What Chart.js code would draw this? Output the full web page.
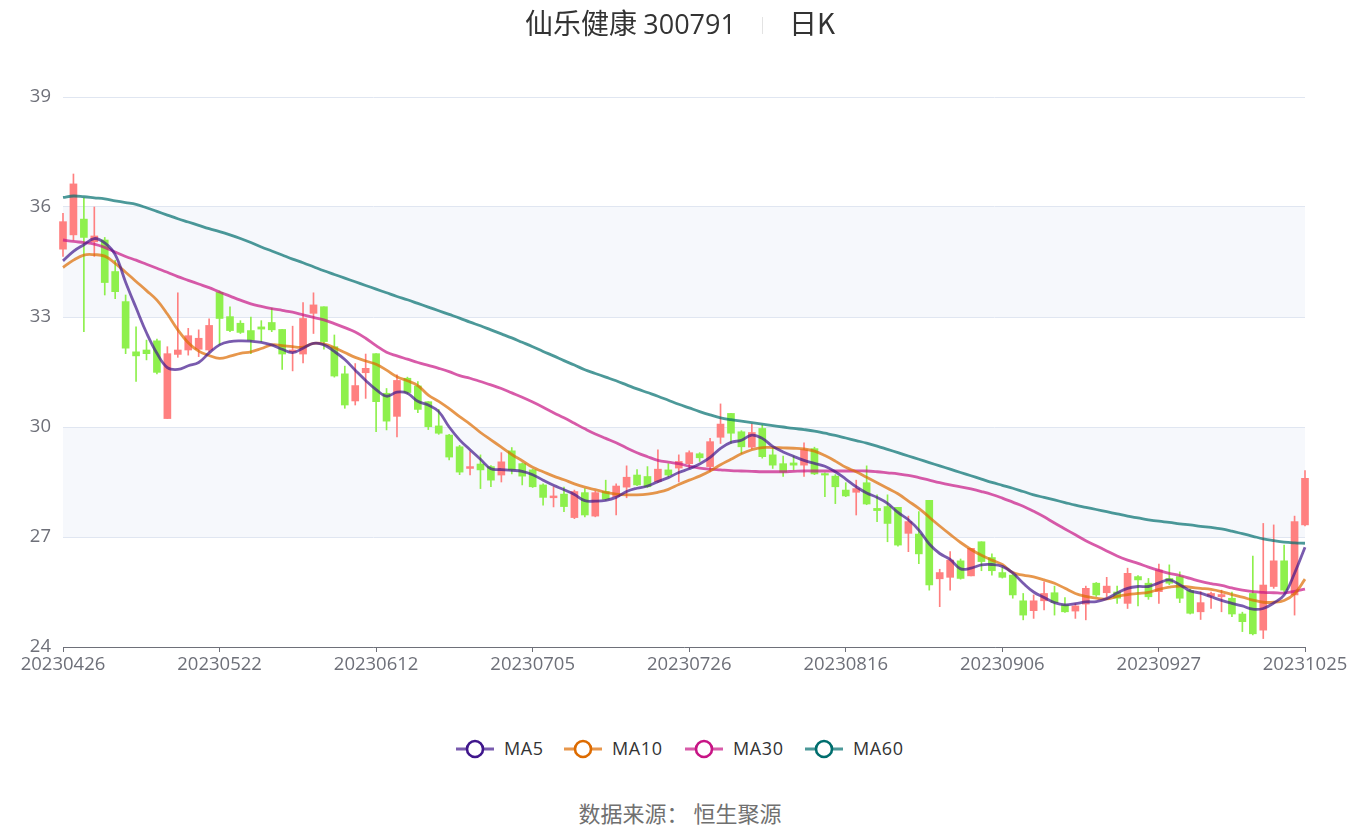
<html>
<head>
<meta charset="utf-8">
<script src="https://cdn.jsdelivr.net/npm/chart.js@4.4.0/dist/chart.umd.min.js"></script>
<style>
body { margin:0; background:#fff; font-family:"Noto Sans CJK SC","Noto Sans",sans-serif; }
#wrap { position:relative; width:1360px; height:828px; overflow:hidden; }
#chart { position:absolute; left:0; top:0; }
#title { position:absolute; left:0; width:1360px; top:3px; text-align:center; font-size:28px; color:#333; line-height:38px; }
#title .num { font-family:"Open Sans",sans-serif; font-size:27px; }
#title .sep { display:inline-block; width:1px; height:17px; background:#e3e3e3; margin:0 26px 0 26px; vertical-align:0px; }
#legend { position:absolute; left:0; top:735px; width:1360px; height:28px; font-family:"Open Sans",sans-serif; font-size:18px; color:#333; line-height:26px; }
#legend .item { position:absolute; top:0; white-space:nowrap; letter-spacing:0.6px; }
#legend svg { vertical-align:-5px; margin-right:9px; }
#source { position:absolute; left:0; width:1360px; top:797px; text-align:center; font-size:22px; color:#707070; line-height:30px; }
</style>
</head>
<body>
<div id="wrap">
<canvas id="chart" width="1360" height="700"></canvas>
<div id="title">仙乐健康 <span class="num">300791</span><span class="sep"></span>日K</div>
<div id="legend"></div>
<div id="source">数据来源：&nbsp;恒生聚源</div>
</div>
<script>
var dates = ["20230426","20230427","20230428","20230504","20230505","20230508","20230509","20230510","20230511","20230512",
"20230515","20230516","20230517","20230518","20230519","20230522","20230523","20230524","20230525","20230526",
"20230529","20230530","20230531","20230601","20230602","20230605","20230606","20230607","20230608","20230609",
"20230612","20230613","20230614","20230615","20230616","20230619","20230620","20230621","20230626","20230627",
"20230628","20230629","20230630","20230703","20230704","20230705","20230706","20230707","20230710","20230711",
"20230712","20230713","20230714","20230717","20230718","20230719","20230720","20230721","20230724","20230725",
"20230726","20230727","20230728","20230731","20230801","20230802","20230803","20230804","20230807","20230808",
"20230809","20230810","20230811","20230814","20230815","20230816","20230817","20230818","20230821","20230822",
"20230823","20230824","20230825","20230828","20230829","20230830","20230831","20230901","20230904","20230905",
"20230906","20230907","20230908","20230911","20230912","20230913","20230914","20230915","20230918","20230919",
"20230920","20230921","20230922","20230925","20230926","20230927","20230928","20231009","20231010","20231011",
"20231012","20231013","20231016","20231017","20231018","20231019","20231020","20231023","20231024","20231025"];

var tickLabels = ["20230426","20230522","20230612","20230705","20230726","20230816","20230906","20230927","20231025"];
var yTicks = [24, 27, 30, 33, 36, 39];

var opens = [34.85,35.24,35.67,35.05,35.10,34.24,33.42,32.05,32.10,32.35,
30.23,31.98,32.10,32.12,32.10,33.67,33.01,32.83,32.63,32.73,
32.85,32.66,32.05,31.99,33.10,33.28,32.19,31.45,30.71,31.48,
32.00,30.92,30.29,31.33,31.12,30.69,30.03,29.78,29.46,28.87,
28.99,28.92,28.69,29.35,29.00,28.83,28.42,28.07,28.17,27.53,
28.21,27.57,28.24,28.10,28.36,28.69,28.65,28.51,28.83,28.88,
29.00,29.27,28.92,29.72,30.37,29.87,29.45,29.96,29.24,29.00,
29.02,28.96,29.41,28.73,28.66,28.28,28.22,28.48,27.78,27.83,
27.81,27.10,27.08,28.00,25.86,25.90,26.35,25.94,26.87,26.44,
26.03,25.96,25.26,24.99,25.26,25.48,25.15,24.98,25.17,25.74,
25.48,25.50,25.19,25.92,25.74,25.51,25.87,25.92,25.54,24.96,
25.39,25.37,25.33,24.90,25.46,24.46,25.65,26.35,25.42,27.33];

var closes = [35.60,36.63,35.17,35.21,33.94,33.69,32.15,31.94,32.00,31.49,
32.00,32.10,32.49,32.42,32.77,32.96,32.63,32.58,32.37,32.67,
32.65,31.99,32.10,32.96,33.33,32.33,31.39,30.60,31.13,31.60,
30.69,30.16,31.27,30.94,30.48,30.01,29.83,29.18,28.77,28.92,
28.83,28.55,29.05,28.83,28.66,28.37,28.08,28.12,27.83,28.24,
27.60,28.21,28.03,28.39,28.63,28.42,28.37,28.85,28.69,29.06,
29.30,29.16,29.60,30.08,29.83,29.46,29.85,29.19,28.96,28.77,
28.96,29.38,28.72,28.69,28.37,28.12,28.32,27.90,27.72,27.37,
26.78,27.42,26.54,25.69,26.03,26.37,25.87,26.69,26.33,26.08,
25.90,25.42,24.87,25.26,25.46,25.21,24.96,25.12,25.60,25.42,
25.66,25.33,26.01,25.83,25.37,26.10,25.74,25.33,24.92,25.21,
25.46,25.43,24.90,24.69,24.36,25.69,26.35,25.55,27.42,28.60];

var highs = [35.83,36.90,36.24,36.00,35.17,34.55,33.60,32.73,32.37,32.40,
32.19,33.66,32.69,32.65,32.95,33.71,33.28,32.90,33.00,32.90,
33.24,32.66,32.75,33.39,33.66,33.28,32.51,31.66,31.73,31.99,
32.00,31.05,31.42,31.36,31.24,30.69,30.48,29.80,29.50,29.33,
29.24,28.95,29.30,29.44,29.02,28.85,28.45,28.37,28.36,28.28,
28.32,28.25,28.55,28.45,28.94,28.84,28.92,29.38,29.00,29.24,
29.35,29.30,29.69,30.63,30.37,29.90,30.08,30.05,29.42,29.21,
29.21,29.57,29.45,28.75,28.70,28.48,28.55,28.94,28.15,28.15,
27.81,27.57,27.69,28.00,26.12,26.60,26.40,26.69,26.87,26.54,
26.17,25.98,25.46,25.42,25.78,25.66,25.35,25.18,25.66,25.76,
25.90,25.66,26.15,25.95,25.87,26.26,26.24,26.05,25.58,25.51,
25.50,25.55,25.50,24.95,26.48,27.37,27.33,26.78,27.57,28.81];

var lows = [34.65,35.10,32.60,34.65,33.60,33.50,32.00,31.24,31.83,31.45,
30.23,31.90,31.96,31.92,32.05,32.24,32.60,32.55,32.00,32.33,
32.60,31.57,31.53,31.75,32.55,32.12,31.36,30.51,30.60,30.78,
29.87,29.92,29.73,30.90,30.39,29.93,29.80,29.10,28.70,28.69,
28.32,28.37,28.50,28.72,28.42,28.35,27.87,27.82,27.69,27.50,
27.55,27.55,28.00,27.60,28.07,28.40,28.35,28.48,28.65,28.50,
28.87,29.06,28.78,29.55,29.55,29.27,29.40,29.15,28.87,28.65,
28.83,28.65,28.70,28.10,27.91,28.10,27.60,27.88,27.42,26.87,
26.75,26.60,26.27,25.55,25.10,25.55,25.85,25.94,26.08,25.96,
25.88,25.33,24.74,24.78,25.01,24.87,24.94,24.78,24.74,25.38,
25.37,25.19,25.05,25.12,25.30,25.19,25.70,25.21,24.90,24.75,
25.05,24.96,24.83,24.42,24.33,24.23,25.60,25.50,24.87,27.30];

var ma5 = [34.53,34.79,34.97,35.14,35.02,34.70,33.95,33.25,32.57,32.01,
31.62,31.57,31.67,31.76,32.02,32.24,32.33,32.35,32.34,32.31,
32.24,32.12,32.03,32.15,32.28,32.24,32.06,31.84,31.55,31.27,
31.02,30.84,30.95,30.92,30.70,30.60,30.42,30.00,29.65,29.38,
29.12,28.86,28.84,28.82,28.79,28.70,28.55,28.41,28.29,28.16,
27.99,27.98,28.00,28.08,28.24,28.33,28.39,28.51,28.62,28.76,
28.86,28.99,29.17,29.42,29.58,29.64,29.78,29.69,29.47,29.32,
29.20,29.09,29.01,28.93,28.78,28.58,28.37,28.20,28.08,27.92,
27.67,27.47,27.19,26.81,26.55,26.39,26.13,26.15,26.24,26.25,
26.20,26.02,25.74,25.50,25.35,25.21,25.15,25.18,25.23,25.24,
25.32,25.47,25.60,25.65,25.65,25.75,25.83,25.70,25.53,25.47,
25.37,25.27,25.19,25.12,25.03,25.05,25.20,25.42,26.01,26.72];

var ma10 = [34.35,34.55,34.69,34.70,34.66,34.46,34.22,33.97,33.72,33.46,
33.08,32.65,32.30,32.07,31.95,31.87,31.93,32.01,32.05,32.14,
32.24,32.22,32.19,32.18,32.28,32.27,32.16,32.03,31.90,31.80,
31.71,31.55,31.37,31.26,31.13,30.87,30.70,30.50,30.28,30.08,
29.85,29.65,29.45,29.25,29.08,28.90,28.78,28.66,28.56,28.45,
28.36,28.29,28.22,28.17,28.15,28.15,28.17,28.22,28.30,28.43,
28.55,28.66,28.80,28.97,29.12,29.27,29.38,29.44,29.44,29.43,
29.42,29.40,29.34,29.22,29.07,28.90,28.78,28.63,28.48,28.33,
28.18,27.98,27.78,27.54,27.30,27.07,26.85,26.66,26.50,26.37,
26.25,26.03,25.96,25.91,25.83,25.74,25.60,25.46,25.38,25.33,
25.31,25.38,25.43,25.46,25.49,25.57,25.63,25.66,25.63,25.60,
25.57,25.51,25.43,25.36,25.28,25.22,25.22,25.27,25.45,25.85];

var ma30 = [35.10,35.06,35.03,34.99,34.90,34.77,34.65,34.55,34.44,34.33,
34.22,34.10,34.00,33.90,33.80,33.68,33.57,33.46,33.36,33.29,
33.23,33.18,33.13,33.06,32.99,32.92,32.82,32.71,32.59,32.42,
32.22,32.04,31.94,31.85,31.76,31.68,31.60,31.51,31.40,31.33,
31.24,31.15,31.05,30.93,30.81,30.68,30.54,30.39,30.25,30.10,
29.95,29.81,29.69,29.57,29.43,29.30,29.19,29.09,29.04,29.00,
28.93,28.88,28.85,28.83,28.81,28.80,28.79,28.78,28.78,28.78,
28.79,28.80,28.80,28.80,28.80,28.80,28.80,28.80,28.78,28.75,
28.72,28.68,28.62,28.55,28.48,28.42,28.37,28.31,28.24,28.16,
28.06,27.95,27.84,27.70,27.55,27.38,27.22,27.06,26.90,26.76,
26.62,26.48,26.37,26.28,26.18,26.09,26.01,25.95,25.87,25.79,
25.73,25.68,25.61,25.55,25.51,25.49,25.48,25.47,25.52,25.58];

var ma60 = [36.26,36.30,36.28,36.25,36.22,36.17,36.12,36.07,35.98,35.88,
35.78,35.68,35.59,35.50,35.41,35.33,35.24,35.14,35.03,34.91,
34.80,34.69,34.58,34.48,34.37,34.26,34.16,34.06,33.96,33.86,
33.76,33.66,33.56,33.47,33.37,33.27,33.17,33.07,32.97,32.86,
32.76,32.65,32.54,32.43,32.31,32.19,32.06,31.94,31.81,31.69,
31.56,31.46,31.36,31.26,31.15,31.04,30.94,30.84,30.73,30.62,
30.52,30.42,30.33,30.25,30.20,30.16,30.12,30.08,30.04,30.00,
29.96,29.93,29.89,29.83,29.77,29.70,29.63,29.56,29.48,29.39,
29.30,29.21,29.12,29.03,28.94,28.85,28.76,28.67,28.58,28.49,
28.41,28.33,28.24,28.15,28.08,28.01,27.94,27.87,27.81,27.75,
27.69,27.63,27.57,27.52,27.47,27.43,27.40,27.36,27.33,27.29,
27.26,27.22,27.16,27.09,27.02,26.95,26.90,26.86,26.84,26.83];

var upColor = "rgb(255,128,128)";
var downColor = "rgb(142,240,76)";

var maSeries = [
  { name: "MA5", data: ma5, line: "rgba(64,22,140,0.7)", dot: "#3f168c", left: 455 },
  { name: "MA10", data: ma10, line: "rgba(221,107,0,0.7)", dot: "#dd6b00", left: 563 },
  { name: "MA30", data: ma30, line: "rgba(199,21,133,0.7)", dot: "#c71585", left: 684 },
  { name: "MA60", data: ma60, line: "rgba(0,110,110,0.7)", dot: "#006e6e", left: 804 }
];

function candleColor(i) {
  return closes[i] >= opens[i] ? upColor : downColor;
}

// split area bands behind the grid
var bands = [[27, 30], [33, 36]];
var bandPlugin = {
  id: "bands",
  beforeDraw: function(chart) {
    var ctx = chart.ctx, a = chart.chartArea, y = chart.scales.y;
    ctx.save();
    ctx.fillStyle = "rgba(210,219,238,0.2)";
    for (var i = 0; i < bands.length; i++) {
      var t = y.getPixelForValue(bands[i][1]);
      var b = y.getPixelForValue(bands[i][0]);
      ctx.fillRect(a.left, t, a.right - a.left, b - t);
    }
    ctx.restore();
  }
};

var datasets = [];
maSeries.forEach(function(s) {
  datasets.push({
    type: "line", label: s.name, data: s.data,
    borderColor: s.line, borderWidth: 2.8, pointRadius: 0,
    tension: 0.4, order: 0, clip: false
  });
});
datasets.push({
  type: "bar", label: "wick",
  data: lows.map(function(l, i) { return [l, highs[i]]; }),
  backgroundColor: dates.map(function(d, i) { return candleColor(i); }),
  barThickness: 1, grouped: false, order: 2, clip: false
});
datasets.push({
  type: "bar", label: "body",
  data: opens.map(function(o, i) { return [o, closes[i]]; }),
  backgroundColor: dates.map(function(d, i) { return candleColor(i); }),
  barThickness: 7, minBarLength: 1, grouped: false, order: 1, clip: false
});

var tickFont = { family: "'Open Sans',sans-serif", size: 18.5 };

new Chart(document.getElementById("chart"), {
  type: "bar",
  data: { labels: dates, datasets: datasets },
  plugins: [bandPlugin],
  options: {
    responsive: false,
    animation: false,
    layout: { padding: { left: 0, right: 55, top: 97, bottom: 0 } },
    plugins: { legend: { display: false }, tooltip: { enabled: false }, title: { display: false } },
    scales: {
      x: {
        offset: false,
        grid: {
          offset: false, drawOnChartArea: false, drawTicks: true, tickLength: 5,
          tickColor: function(c) { return tickLabels.indexOf(dates[c.index]) >= 0 ? "#6e7079" : "rgba(0,0,0,0)"; }
        },
        border: { display: true, color: "#6e7079", width: 1 },
        ticks: {
          autoSkip: false, maxRotation: 0, padding: 2, color: "#6e7079", font: tickFont,
          callback: function(v, i) { return tickLabels.indexOf(dates[i]) >= 0 ? dates[i] : ""; }
        },
        afterFit: function(scale) { scale.height = 53; }
      },
      y: {
        min: 24, max: 39,
        afterBuildTicks: function(scale) { scale.ticks = yTicks.map(function(v) { return { value: v }; }); },
        grid: { color: "#e0e6f1", drawTicks: false },
        border: { display: false },
        ticks: { padding: 12, color: "#6e7079", font: tickFont },
        afterFit: function(scale) { scale.width = 63; }
      }
    }
  }
});

// legend
var lg = document.getElementById("legend");
maSeries.forEach(function(s) {
  var item = document.createElement("span");
  item.className = "item";
  item.style.left = s.left + "px";
  item.innerHTML = '<svg width="40" height="22"><line x1="1" y1="11" x2="39" y2="11" stroke="' + s.line +
    '" stroke-width="3"/><circle cx="20" cy="11" r="8" fill="#fff" stroke="' + s.dot + '" stroke-width="2.6"/></svg>' + s.name;
  lg.appendChild(item);
});
</script>
</body>
</html>
